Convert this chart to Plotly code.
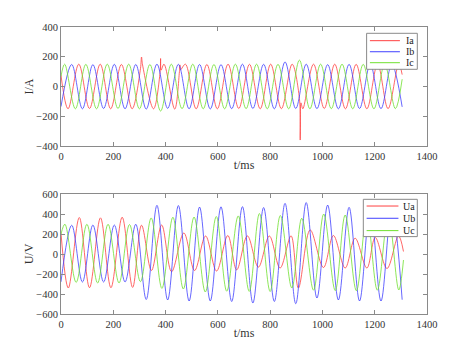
import plotly.graph_objects as go

# ---- currents (extrema), t in ms ----
ia_t = [0, 27, 68, 109, 150, 190, 231, 272, 304, 308, 312, 354, 379, 381, 383, 394, 435, 453, 455, 457,
        476, 517, 558, 598, 639, 680, 721, 762, 802, 843, 884, 912, 915, 918, 925, 966, 1007, 1047, 1088,
        1129, 1170, 1211, 1251, 1292, 1305]
ia_v = [75, -150, 150, -148, 150, -150, 148, -150, 120, 198, 145, -150, 95, 188, 110, 150, -152, 100, 145, 112,
        150, -150, 148, -150, 150, -148, 149, -150, 150, -149, 150, -80, -360, -110, -150, 150, -148, 150, -150,
        149, -150, 150, -149, 150, 80]

ib_t = [0, 41, 82, 122, 163, 204, 245, 286, 326, 367, 408, 449, 490, 530, 571, 612, 653, 694, 734, 775,
        816, 857, 898, 938, 979, 1020, 1061, 1102, 1142, 1183, 1224, 1265, 1305]
ib_v = [-135, 148, -150, 147, -148, 149, -150, 148, -152, 150, -147, 149, -150, 148, -151, 147, -149, 150, -148, 149,
        -150, 165, -148, 150, -149, 147, -150, 149, -148, 150, -149, 148, -137]

ic_t = [0, 14, 55, 95, 136, 177, 218, 259, 300, 340, 381, 422, 463, 504, 544, 585, 626, 667, 708, 748,
        789, 830, 871, 912, 952, 993, 1034, 1075, 1116, 1156, 1197, 1238, 1279, 1305]
ic_v = [68, 150, -150, 149, -150, 150, -148, 150, -150, 148, -165, 150, -149, 150, -150, 148, -150, 150, -149, 150,
        -150, 149, -150, 177, -150, 150, -149, 150, -150, 149, -150, 150, -149, 49]

# ---- voltages (extrema) ----
ua_t = [0, 28, 70, 109, 151, 191, 234, 274, 308, 346, 385, 423, 470, 511, 553, 595, 638, 672, 713, 755,
        797, 838, 880, 908, 953, 1004, 1042, 1087, 1125, 1170, 1202, 1247, 1291, 1310]
ua_v = [208, -340, 365, -337, 362, -337, 368, -334, 288, -165, 290, -177, 210, -165, 180, -170, 185, -158, 181, -131,
        180, -140, 182, -340, 241, -135, 185, -140, 158, -140, 165, -145, 180, 25]

ub_t = ib_t
ub_v = [-278, 288, -280, 290, -280, 290, -280, 298, -455, 487, -460, 485, -470, 470, -470, 472, -475, 474, -490, 465,
        -475, 507, -497, 515, -440, 490, -460, 467, -470, 470, -470, 470, -457]

uc_t = [0, 15, 58, 99, 140, 180, 222, 262, 304, 345, 386, 428, 468, 509, 552, 594, 634, 678, 720, 759,
        800, 839, 883, 921, 966, 1005, 1049, 1087, 1130, 1170, 1210, 1252, 1292, 1310]
uc_v = [200, 298, -284, 298, -290, 298, -290, 295, -277, 361, -344, 368, -350, 370, -380, 375, -372, 381, -374, 405,
        -375, 385, -340, 358, -362, 400, -366, 390, -368, 385, -362, 385, -360, -60]

current_names = ["Ia", "Ib", "Ic"]
voltage_names = ["Ua", "Ub", "Uc"]
colors = ["#ff4040", "#4040ff", "#70e030"]
font = "Times New Roman, Liberation Serif, serif"
grey = "#8a8a8a"

fig = go.Figure()
for name, t, v, c in zip(current_names, [ia_t, ib_t, ic_t], [ia_v, ib_v, ic_v], colors):
    fig.add_trace(go.Scatter(x=t, y=v, name=name, mode="lines",
                             line=dict(color=c, width=0.8, shape="spline"), xaxis="x", yaxis="y"))
for name, t, v, c in zip(voltage_names, [ua_t, ub_t, uc_t], [ua_v, ub_v, uc_v], colors):
    fig.add_trace(go.Scatter(x=t, y=v, name=name, mode="lines",
                             line=dict(color=c, width=0.8, shape="spline"), xaxis="x2", yaxis="y2"))

# small boxed legends in the upper right of each panel (matlab style)
def legend_box(xa, ya, box, rows, line_x, text_x, names):
    xr, yr = xa + " domain", ya + " domain"
    fig.add_shape(type="rect", xref=xr, yref=yr, x0=box[0], x1=box[1], y0=box[2], y1=box[3],
                  fillcolor="white", line=dict(color=grey, width=1), layer="above")
    for name, y, c in zip(names, rows, colors):
        fig.add_shape(type="line", xref=xr, yref=yr, x0=line_x[0], x1=line_x[1], y0=y, y1=y,
                      line=dict(color=c, width=1), layer="above")
        fig.add_annotation(xref=xr, yref=yr, x=text_x, y=y, text=name, showarrow=False,
                           xanchor="left", yanchor="middle", font=dict(family=font, size=10, color="#222222"))

legend_box("x", "y", [0.835, 0.9735, 0.6445, 0.947], [0.885, 0.792, 0.700], [0.844, 0.926], 0.936, current_names)
legend_box("x2", "y2", [0.826, 0.9735, 0.645, 0.956], [0.900, 0.798, 0.695], [0.835, 0.922], 0.929, voltage_names)

ax = dict(showline=True, linecolor=grey, linewidth=1, mirror="ticks", ticks="inside", ticklen=4,
          tickcolor=grey, showgrid=False, zeroline=False, automargin=False,
          tickfont=dict(family=font, size=10.5, color="#333333"))

# page body keeps an 8px margin, so the figure is 16px smaller than the window
fig.update_layout(
    width=455, height=337, margin=dict(l=53, r=36, t=19, b=31),
    plot_bgcolor="white", paper_bgcolor="white", font=dict(family=font, color="#333333"),
    showlegend=False,
    xaxis=dict(ax, range=[0, 1400], dtick=200, anchor="y", domain=[0, 1],
               title=dict(text="t/ms", font=dict(family=font, size=12), standoff=0)),
    yaxis=dict(ax, range=[-400, 400], dtick=200, domain=[0.5854, 1],
               title=dict(text="I/A", font=dict(family=font, size=12), standoff=0)),
    xaxis2=dict(ax, range=[0, 1400], dtick=200, anchor="y2", domain=[0, 1],
                title=dict(text="t/ms", font=dict(family=font, size=12), standoff=0)),
    yaxis2=dict(ax, range=[-600, 600], dtick=200, domain=[0, 0.418],
                title=dict(text="U/V", font=dict(family=font, size=12), standoff=0)),
)

fig.write_html("out.html")
